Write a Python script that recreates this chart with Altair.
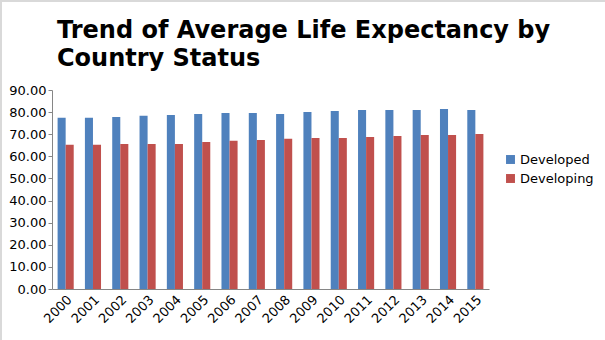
import altair as alt
import pandas as pd

years = [str(y) for y in range(2000, 2016)]
developed = [77.4, 77.4, 77.8, 78.3, 78.7, 79.2, 79.6, 79.6, 79.2, 80.1, 80.5, 80.9, 80.9, 80.9, 81.4, 80.9]
developing = [65.2, 65.2, 65.6, 65.6, 65.6, 66.5, 67.0, 67.4, 67.9, 68.3, 68.3, 68.8, 69.2, 69.7, 69.7, 70.1]
series = ["Developed", "Developing"]
colors = ["#4F81BD", "#C0504D"]

rows = []
for i, yr in enumerate(years):
    rows.append({"Year": yr, "Status": series[0], "Value": developed[i]})
    rows.append({"Year": yr, "Status": series[1], "Value": developing[i]})
df = pd.DataFrame(rows)

FONT = "DejaVu Sans"

bars = alt.Chart(df).mark_bar().encode(
    x=alt.X("Year:N", sort=years,
            scale=alt.Scale(paddingInner=0.41, paddingOuter=0.205),
            axis=alt.Axis(title=None, labelAngle=-45, labelAlign="right", labelBaseline="top",
                          ticks=False, domainColor="#868686", labelFontSize=13,
                          labelFont=FONT, labelColor="black", labelPadding=4)),
    xOffset=alt.XOffset("Status:N", sort=series, scale=alt.Scale(paddingInner=0, paddingOuter=0)),
    y=alt.Y("Value:Q", scale=alt.Scale(domain=[0, 90], nice=False),
            axis=alt.Axis(title=None, values=list(range(0, 91, 10)), format=".2f", grid=False,
                          domainColor="#868686", tickColor="#868686", tickSize=4,
                          labelFontSize=13, labelFont=FONT, labelColor="black", labelPadding=2)),
    color=alt.Color("Status:N", sort=series,
                    scale=alt.Scale(domain=series, range=colors),
                    legend=alt.Legend(title=None, orient="none", legendX=452, legendY=63,
                                      symbolType="square", symbolSize=80, symbolStrokeWidth=0,
                                      labelFontSize=13, labelFont=FONT, labelColor="black",
                                      rowPadding=5, labelOffset=3)),
)

frame_df = pd.DataFrame({"k": [0]})
top_border = alt.Chart(frame_df).mark_rule(color="#d9d9d9", strokeWidth=2).encode(
    x=alt.value(-52), x2=alt.value(553), y=alt.value(-89)
)
left_border = alt.Chart(frame_df).mark_rule(color="#d9d9d9", strokeWidth=2).encode(
    x=alt.value(-51), y=alt.value(-90), y2=alt.value(250)
)

chart = alt.layer(bars, top_border, left_border).properties(
    width=437,
    height=199,
    title=alt.TitleParams(
        text=["Trend of Average Life Expectancy by", "Country Status"],
        anchor="start", frame="group", font=FONT, fontSize=24, fontWeight="bold",
        color="black", dx=5, dy=83, offset=11, lineHeight=28,
    ),
    padding={"left": 52, "top": 90, "right": 116, "bottom": 51},
    autosize=alt.AutoSizeParams(type="none"),
    background="white",
).configure_view(stroke=None)

chart.save("out.html", embed_options={"renderer": "svg", "actions": False})
